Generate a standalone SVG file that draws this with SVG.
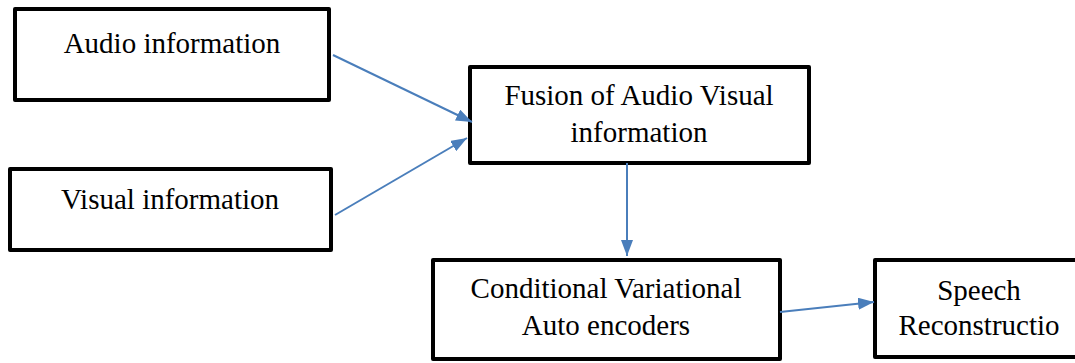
<svg xmlns="http://www.w3.org/2000/svg" width="1075" height="363" viewBox="0 0 1075 363">
<style>
.box{fill:#fff;stroke:#000;stroke-width:4;stroke-linejoin:round}
.t{font-family:'Liberation Serif','DejaVu Serif',serif;font-size:29px;fill:#000;text-anchor:middle}
.c{stroke:#4a7ebb;stroke-width:2;fill:none}
</style>
<defs>
<marker id="ah" viewBox="0 0 16 12" refX="16" refY="6" markerWidth="16" markerHeight="12" orient="auto" markerUnits="userSpaceOnUse">
<path d="M0,0 L16,6 L0,12 z" fill="#4a7ebb"/>
</marker>
</defs>
<rect width="1075" height="363" fill="#fff"/>
<g id="audio">
<rect class="box" x="15" y="9" width="314" height="91"/>
<text class="t" x="172" y="53">Audio information</text>
</g>
<g id="visual">
<rect class="box" x="10" y="169" width="321" height="81"/>
<text class="t" x="170" y="209">Visual information</text>
</g>
<g id="fusion">
<rect class="box" x="470" y="67" width="339" height="96"/>
<text class="t" x="639" y="105">Fusion of Audio Visual</text>
<text class="t" x="639" y="142">information</text>
</g>
<g id="cvae">
<rect class="box" x="433" y="260" width="347" height="99"/>
<text class="t" x="606" y="298">Conditional Variational</text>
<text class="t" x="606" y="335">Auto encoders</text>
</g>
<g id="speech">
<rect class="box" x="875" y="260" width="210" height="97"/>
<text class="t" x="979" y="300">Speech</text>
<text class="t" x="979" y="335">Reconstructio</text>
</g>
<g id="connectors">
<line class="c" x1="333" y1="55" x2="472" y2="122" marker-end="url(#ah)"/>
<line class="c" x1="335" y1="215" x2="467" y2="138" marker-end="url(#ah)"/>
<line class="c" x1="627" y1="163" x2="627" y2="256" marker-end="url(#ah)"/>
<line class="c" x1="780" y1="312" x2="874" y2="302" marker-end="url(#ah)"/>
</g>
</svg>
